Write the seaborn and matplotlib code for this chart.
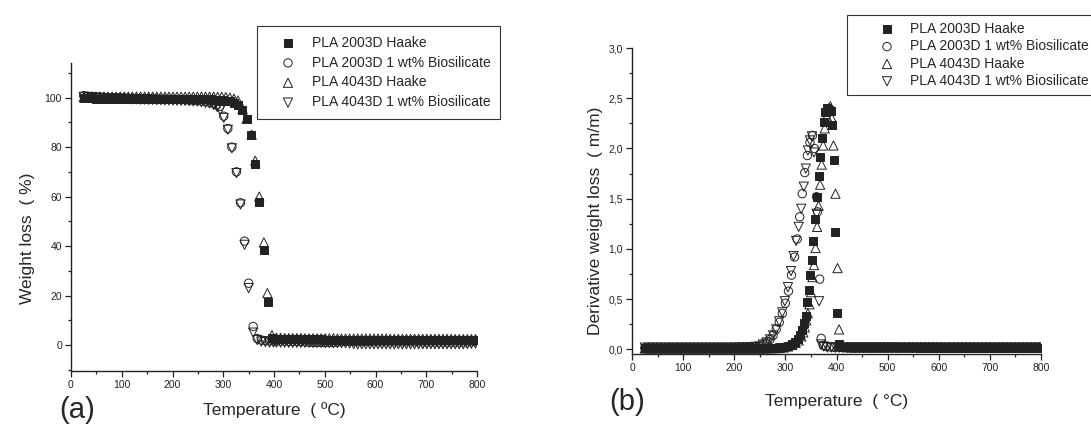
import matplotlib
matplotlib.use("Agg")
import pandas as pd
import matplotlib.pyplot as plt
import seaborn as sns
from matplotlib.ticker import MultipleLocator, FuncFormatter

# === sample names (legend order) ===
SAMPLES = ["PLA 2003D Haake", "PLA 2003D 1 wt% Biosilicate",
           "PLA 4043D Haake", "PLA 4043D 1 wt% Biosilicate"]

# === shared temperature grid for the flat parts (°C) ===
T_LO = [25, 33, 41, 49, 57, 65, 73, 81, 89, 97,
        105, 113, 121, 129, 137, 145, 153, 161, 169, 177,
        185, 193, 201, 209, 217, 225, 233, 241]
T_HI = [405, 413, 421, 429, 437, 445, 453, 461, 469, 477,
        485, 493, 501, 509, 517, 525, 533, 541, 549, 557,
        565, 573, 581, 589, 597, 605, 613, 621, 629, 637,
        645, 653, 661, 669, 677, 685, 693, 701, 709, 717,
        725, 733, 741, 749, 757, 765, 773, 781, 789, 797]

# === (a) TGA weight (%) ===
sq_a_lo = [99.8, 99.7, 99.7, 99.6, 99.6, 99.6, 99.6, 99.5, 99.5, 99.5,
           99.5, 99.5, 99.5, 99.5, 99.5, 99.5, 99.4, 99.4, 99.4, 99.4,
           99.4, 99.4, 99.4, 99.4, 99.4, 99.4, 99.4, 99.4]
sq_a_mid_t = [249, 257, 265, 273, 281, 289, 297, 305, 313, 321,
              329, 337, 346, 355, 362, 371, 380, 388, 396]
sq_a_mid = [99.4, 99.4, 99.3, 99.3, 99.2, 99.1, 99.0, 98.8, 98.5, 98.0,
            97.2, 95.0, 91.5, 85.0, 73.0, 58.0, 38.5, 17.5, 3.0]
sq_a_hi = [2.5, 2.5, 2.4, 2.4, 2.4, 2.4, 2.3, 2.3, 2.3, 2.3,
           2.3, 2.3, 2.2, 2.2, 2.2, 2.2, 2.2, 2.2, 2.2, 2.2,
           2.1, 2.1, 2.1, 2.1, 2.1, 2.1, 2.1, 2.1, 2.1, 2.1,
           2.0, 2.0, 2.0, 2.0, 2.0, 2.0, 2.0, 2.0, 2.0, 2.0,
           2.0, 2.0, 2.0, 2.0, 1.9, 1.9, 1.9, 1.9, 1.9, 1.9]

ci_a_lo = [100.8, 100.6, 100.5, 100.4, 100.3, 100.2, 100.1, 100.0, 100.0, 99.9,
           99.9, 99.8, 99.8, 99.7, 99.7, 99.6, 99.6, 99.5, 99.5, 99.4,
           99.4, 99.3, 99.3, 99.2, 99.2, 99.1, 99.0, 98.9]
ci_a_mid_t = [249, 257, 265, 273, 281, 287, 293, 301, 309, 317,
              326, 334, 342, 350, 359, 367, 375, 383, 391, 399]
ci_a_mid = [98.8, 98.6, 98.4, 98.1, 97.6, 97.0, 96.5, 92.5, 87.5, 80.0,
            70.0, 57.5, 42.0, 25.0, 7.5, 2.6, 2.0, 1.8, 1.7, 1.6]
ci_a_hi = [1.6, 1.6, 1.6, 1.5, 1.5, 1.5, 1.4, 1.3, 1.1, 1.0,
           1.0, 1.0, 1.0, 1.1, 1.0, 1.2, 1.3, 1.4, 1.4, 1.4,
           1.4, 1.4, 1.4, 1.4, 1.3, 1.3, 1.3, 1.3, 1.3, 1.3,
           1.3, 1.3, 1.3, 1.3, 1.3, 1.3, 1.2, 1.2, 1.2, 1.2,
           1.2, 1.2, 1.2, 1.2, 1.2, 1.2, 1.2, 1.2, 1.3, 1.5]

tu_a_lo = [100.2, 100.3, 100.3, 100.4, 100.4, 100.4, 100.4, 100.4, 100.4, 100.4,
           100.4, 100.4, 100.4, 100.4, 100.4, 100.4, 100.4, 100.4, 100.4, 100.4,
           100.4, 100.4, 100.4, 100.4, 100.4, 100.4, 100.4, 100.4]
tu_a_mid_t = [249, 257, 265, 273, 281, 289, 297, 305, 313, 321,
              329, 338, 346, 356, 363, 371, 380, 387, 396]
tu_a_mid = [100.4, 100.4, 100.4, 100.4, 100.4, 100.3, 100.3, 100.2, 100.0, 99.6,
            98.8, 95.5, 91.5, 85.0, 74.5, 60.0, 41.5, 21.0, 4.0]
tu_a_hi = [2.9, 2.9, 2.8, 2.8, 2.8, 2.8, 2.8, 2.7, 2.7, 2.7,
           2.7, 2.7, 2.7, 2.7, 2.7, 2.6, 2.6, 2.6, 2.6, 2.6,
           2.6, 2.6, 2.6, 2.6, 2.6, 2.6, 2.6, 2.6, 2.5, 2.5,
           2.5, 2.5, 2.5, 2.5, 2.5, 2.5, 2.5, 2.5, 2.5, 2.5,
           2.5, 2.5, 2.5, 2.5, 2.4, 2.4, 2.4, 2.4, 2.4, 2.4]

td_a_lo = [100.3, 100.1, 100.0, 99.9, 99.8, 99.7, 99.6, 99.6, 99.5, 99.5,
           99.4, 99.4, 99.3, 99.3, 99.2, 99.2, 99.1, 99.1, 99.0, 99.0,
           98.9, 98.9, 98.8, 98.8, 98.7, 98.7, 98.6, 98.5]
td_a_mid_t = [249, 257, 265, 273, 281, 288, 294, 301, 309, 317,
              326, 334, 342, 350, 359, 367, 375, 383, 391, 399]
td_a_mid = [98.4, 98.2, 97.9, 97.6, 97.0, 96.2, 95.0, 91.8, 87.0, 79.5,
            69.5, 56.8, 40.5, 23.0, 5.0, 2.0, 1.4, 1.2, 1.0, 1.0]
td_a_hi = [1.0, 1.0, 1.0, 0.9, 0.9, 0.9, 0.9, 0.9, 0.9, 0.9,
           0.9, 0.9, 0.8, 0.8, 0.8, 0.8, 0.8, 0.8, 0.6, 0.4,
           0.3, 0.3, 0.3, 0.3, 0.3, 0.3, 0.3, 0.3, 0.3, 0.3,
           0.3, 0.3, 0.3, 0.3, 0.3, 0.3, 0.3, 0.3, 0.3, 0.3,
           0.3, 0.3, 0.3, 0.3, 0.3, 0.3, 0.3, 0.4, 0.5, 0.6]

# === (b) DTG derivative weight loss (m/m) ===
sq_b_lo = [0.010, 0.012, 0.012, 0.012, 0.012, 0.012, 0.012, 0.012, 0.012, 0.012,
           0.012, 0.012, 0.012, 0.012, 0.012, 0.012, 0.012, 0.012, 0.012, 0.012,
           0.012, 0.012, 0.012, 0.012, 0.012, 0.012, 0.012, 0.012]
sq_b_mid_t = [249, 257, 265, 273, 281, 289, 297, 305, 312, 318,
              324, 329, 333, 337, 340, 343, 346, 349, 352, 355,
              358, 362, 365, 368, 371, 375, 378, 382, 386, 389,
              391, 395, 398, 401, 404]
sq_b_mid = [0.012, 0.012, 0.013, 0.014, 0.016, 0.02, 0.025, 0.035, 0.05, 0.07,
            0.10, 0.14, 0.19, 0.26, 0.33, 0.47, 0.59, 0.74, 0.89, 1.08,
            1.30, 1.52, 1.73, 1.92, 2.10, 2.26, 2.36, 2.40, 2.38, 2.37,
            2.23, 1.89, 1.17, 0.36, 0.05]
sq_b_hi = [0.030, 0.028, 0.026, 0.025, 0.024, 0.023, 0.022, 0.022, 0.021, 0.021,
           0.020, 0.020, 0.020, 0.020, 0.020, 0.020, 0.020, 0.020, 0.020, 0.020,
           0.019, 0.019, 0.019, 0.019, 0.019, 0.019, 0.019, 0.019, 0.019, 0.019,
           0.018, 0.018, 0.018, 0.018, 0.018, 0.018, 0.018, 0.018, 0.018, 0.018,
           0.018, 0.018, 0.018, 0.018, 0.018, 0.018, 0.018, 0.018, 0.018, 0.018]

ci_b_lo = [0.015, 0.016, 0.016, 0.016, 0.016, 0.016, 0.016, 0.016, 0.016, 0.016,
           0.016, 0.016, 0.016, 0.016, 0.016, 0.016, 0.016, 0.017, 0.017, 0.017,
           0.017, 0.018, 0.018, 0.019, 0.019, 0.020, 0.022, 0.025]
ci_b_mid_t = [249, 256, 263, 270, 276, 282, 288, 294, 300, 306,
              312, 318, 323, 328, 333, 338, 343, 348, 353, 357,
              361, 363, 367, 370, 374, 380, 388, 396]
ci_b_mid = [0.03, 0.05, 0.07, 0.10, 0.14, 0.20, 0.27, 0.36, 0.46, 0.58,
            0.74, 0.92, 1.10, 1.32, 1.55, 1.76, 1.93, 2.06, 2.13, 2.00,
            1.52, 1.37, 0.70, 0.11, 0.04, 0.03, 0.025, 0.02]
ci_b_hi = [0.025, 0.025, 0.025, 0.025, 0.025, 0.025, 0.025, 0.025, 0.025, 0.025,
           0.025, 0.025, 0.025, 0.025, 0.025, 0.024, 0.024, 0.024, 0.024, 0.024,
           0.024, 0.024, 0.024, 0.024, 0.024, 0.023, 0.023, 0.023, 0.023, 0.023,
           0.023, 0.023, 0.023, 0.023, 0.023, 0.022, 0.022, 0.022, 0.022, 0.022,
           0.022, 0.022, 0.022, 0.022, 0.022, 0.022, 0.022, 0.022, 0.022, 0.025]

tu_b_lo = [0.010, 0.010, 0.010, 0.010, 0.010, 0.010, 0.010, 0.010, 0.010, 0.010,
           0.010, 0.010, 0.010, 0.010, 0.010, 0.010, 0.010, 0.010, 0.010, 0.010,
           0.010, 0.010, 0.010, 0.010, 0.010, 0.010, 0.010, 0.010]
tu_b_mid_t = [249, 257, 265, 273, 281, 289, 297, 305, 313, 320,
              326, 331, 335, 338, 341, 344, 347, 350, 353, 356,
              359, 362, 365, 368, 371, 374, 377, 381, 385, 388,
              391, 394, 398, 402, 405]
tu_b_mid = [0.010, 0.010, 0.011, 0.012, 0.013, 0.015, 0.02, 0.03, 0.045, 0.065,
            0.09, 0.13, 0.17, 0.22, 0.29, 0.36, 0.45, 0.57, 0.72, 0.84,
            1.01, 1.22, 1.43, 1.64, 1.84, 2.03, 2.20, 2.32, 2.40, 2.42,
            2.30, 2.03, 1.55, 0.81, 0.20]
tu_b_hi = [0.030, 0.025, 0.022, 0.020, 0.020, 0.020, 0.020, 0.020, 0.020, 0.020,
           0.020, 0.020, 0.020, 0.020, 0.020, 0.020, 0.020, 0.020, 0.020, 0.020,
           0.020, 0.020, 0.020, 0.020, 0.020, 0.020, 0.020, 0.020, 0.020, 0.020,
           0.020, 0.020, 0.020, 0.020, 0.020, 0.020, 0.020, 0.020, 0.020, 0.020,
           0.020, 0.020, 0.020, 0.020, 0.020, 0.020, 0.020, 0.020, 0.020, 0.020]

td_b_lo = [0.018, 0.018, 0.018, 0.018, 0.018, 0.018, 0.018, 0.018, 0.018, 0.018,
           0.018, 0.018, 0.018, 0.018, 0.018, 0.018, 0.018, 0.018, 0.018, 0.018,
           0.018, 0.018, 0.019, 0.019, 0.020, 0.021, 0.023, 0.026]
td_b_mid_t = [249, 256, 263, 270, 276, 282, 288, 294, 299, 305,
              311, 316, 321, 326, 331, 336, 340, 344, 348, 352,
              356, 361, 366, 370, 375, 382, 390, 398]
td_b_mid = [0.03, 0.05, 0.07, 0.10, 0.14, 0.20, 0.28, 0.37, 0.48, 0.62,
            0.78, 0.93, 1.08, 1.22, 1.40, 1.62, 1.80, 1.98, 2.08, 2.12,
            1.96, 1.35, 0.48, 0.05, 0.03, 0.02, 0.02, 0.018]
td_b_hi = [0.018, 0.018, 0.018, 0.018, 0.018, 0.018, 0.018, 0.018, 0.018, 0.018,
           0.018, 0.018, 0.018, 0.018, 0.018, 0.018, 0.018, 0.018, 0.018, 0.018,
           0.018, 0.018, 0.018, 0.018, 0.018, 0.018, 0.018, 0.018, 0.018, 0.018,
           0.018, 0.018, 0.018, 0.018, 0.018, 0.018, 0.018, 0.018, 0.018, 0.018,
           0.018, 0.018, 0.018, 0.018, 0.018, 0.018, 0.018, 0.018, 0.018, 0.018]


def build(parts):
    frames = []
    for name, (lo, mid_t, mid, hi) in zip(SAMPLES, parts):
        frames.append(pd.DataFrame({
            "sample": name,
            "temp": T_LO + mid_t + T_HI,
            "value": lo + mid + hi,
        }))
    return pd.concat(frames, ignore_index=True)


tga = build([(sq_a_lo, sq_a_mid_t, sq_a_mid, sq_a_hi),
             (ci_a_lo, ci_a_mid_t, ci_a_mid, ci_a_hi),
             (tu_a_lo, tu_a_mid_t, tu_a_mid, tu_a_hi),
             (td_a_lo, td_a_mid_t, td_a_mid, td_a_hi)])
dtg = build([(sq_b_lo, sq_b_mid_t, sq_b_mid, sq_b_hi),
             (ci_b_lo, ci_b_mid_t, ci_b_mid, ci_b_hi),
             (tu_b_lo, tu_b_mid_t, tu_b_mid, tu_b_hi),
             (td_b_lo, td_b_mid_t, td_b_mid, td_b_hi)])

# === style ===
sns.set_style("ticks")
plt.rcParams["font.family"] = ["Liberation Sans", "DejaVu Sans"]

INK = "#222222"
MARKERS = {
    SAMPLES[0]: dict(marker="s", s=34, facecolor=INK),
    SAMPLES[1]: dict(marker="o", s=36, facecolor="none"),
    SAMPLES[2]: dict(marker="^", s=44, facecolor="none"),
    SAMPLES[3]: dict(marker="v", s=44, facecolor="none"),
}

W, H = 1091, 433
fig = plt.figure(figsize=(W / 100, H / 100), dpi=100)
ax_a = fig.add_axes([71 / W, 1 - 371 / H, 406 / W, 308 / H])
ax_b = fig.add_axes([632 / W, 1 - 354 / H, 409 / W, 306 / H])


def draw(ax, df):
    for name in SAMPLES:
        st = MARKERS[name]
        sns.scatterplot(data=df[df["sample"] == name], x="temp", y="value",
                        marker=st["marker"], s=st["s"], color=INK,
                        facecolor=st["facecolor"], edgecolor=INK,
                        linewidth=0.7, label=name, ax=ax)
    ax.set_xlim(0, 800)
    ax.xaxis.set_major_locator(MultipleLocator(100))
    ax.xaxis.set_minor_locator(MultipleLocator(50))
    ax.tick_params(which="both", direction="out", width=0.9, colors="#222",
                   labelsize=7.5, pad=2)
    ax.tick_params(which="major", length=4.5)
    ax.tick_params(which="minor", length=2.5)
    for sp in ["left", "bottom"]:
        ax.spines[sp].set_linewidth(1.0)
        ax.spines[sp].set_color("#222")
    sns.despine(ax=ax)


# --- (a) ---
draw(ax_a, tga)
ax_a.set_ylim(-10.5, 114)
ax_a.yaxis.set_major_locator(MultipleLocator(20))
ax_a.yaxis.set_minor_locator(MultipleLocator(10))
ax_a.set_xlabel("Temperature  ( ºC)", fontsize=12.5, labelpad=9)
ax_a.set_ylabel("Weight loss  ( %)", fontsize=12.5)
ax_a.yaxis.set_label_coords(-0.089, 0.43)
leg_a = ax_a.legend(loc="upper left", bbox_to_anchor=(257 / W, 1 - 26 / H),
                    bbox_transform=fig.transFigure, borderaxespad=0,
                    fontsize=10, frameon=True, fancybox=False,
                    edgecolor="#333", framealpha=1, labelspacing=0.42,
                    handlelength=3.06, handletextpad=0.2, borderpad=0.7)
leg_a.get_frame().set_linewidth(0.8)
fig.text(77 / W, 1 - 410 / H, "(a)", fontsize=21, ha="center", va="center")

# --- (b) ---
draw(ax_b, dtg)
ax_b.set_ylim(-0.045, 3.0)
ax_b.yaxis.set_major_locator(MultipleLocator(0.5))
ax_b.yaxis.set_minor_locator(MultipleLocator(0.25))
ax_b.yaxis.set_major_formatter(FuncFormatter(lambda v, p: f"{v:.1f}".replace(".", ",")))
ax_b.set_xlabel("Temperature  ( °C)", fontsize=12.5, labelpad=15)
ax_b.set_ylabel("Derivative weight loss  ( m/m)", fontsize=12.5)
ax_b.yaxis.set_label_coords(-0.07, 0.435)
leg_b = ax_b.legend(loc="upper left", bbox_to_anchor=(847 / W, 1 - 15 / H),
                    bbox_transform=fig.transFigure, borderaxespad=0,
                    fontsize=10, frameon=True, fancybox=False,
                    edgecolor="#333", framealpha=1, labelspacing=0.24,
                    handlelength=4.76, handletextpad=-0.73, borderpad=0.5)
leg_b.get_frame().set_linewidth(0.8)
fig.text(627 / W, 1 - 402 / H, "(b)", fontsize=21, ha="center", va="center")

fig.savefig("out.png", dpi=100)
